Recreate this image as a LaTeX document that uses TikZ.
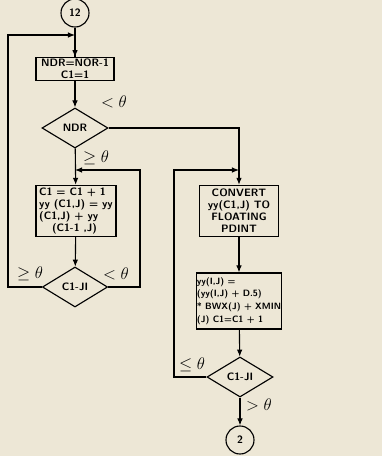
\documentclass[tikz,border=0pt]{standalone}
\usetikzlibrary{shapes.geometric,arrows.meta,backgrounds}
\definecolor{paper}{RGB}{237,231,214}
\tikzset{
  box/.style={draw,thick,rectangle,inner sep=1pt,align=center,font=\sffamily\bfseries\fontsize{7.6}{8.6}\selectfont},
  test/.style={draw,thick,diamond,aspect=1.65,inner sep=0pt,font=\sffamily\bfseries\fontsize{7.6}{8.6}\selectfont},
  conn/.style={draw,thick,circle,minimum size=0.7cm,inner sep=0pt,font=\sffamily\bfseries\fontsize{7.6}{8.6}\selectfont},
  flow/.style={thick,-{Latex[length=5pt,width=4pt]}},
  lbl/.style={font=\large}
}
\begin{document}
\begin{tikzpicture}[x=0.025cm,y=-0.025cm]
\fill[paper] (0,0) rectangle (382,456);
\useasboundingbox (0,0) rectangle (382,456);
% left column
\node[conn] (c12) at (75,13) {12};
\node[box,minimum width=1.95cm,minimum height=0.55cm] (b1) at (75,69) {NDR=NOR-1\\C1=1};
\node[test,minimum width=1.65cm,minimum height=1cm] (d1) at (75,128) {NDR};
\node[box,minimum width=2cm,minimum height=1.28cm,align=left] (b2) at (76,211) {C1 = C1 + 1\\yy (C1,J) = yy\\(C1,J) + yy\\\hspace{1.2em}(C1-1 ,J)};
\node[test,minimum width=1.63cm,minimum height=1cm] (d2) at (75,287) {C1-JI};
% right column
\node[box,minimum width=1.98cm,minimum height=1.28cm] (b3) at (239,211) {CONVERT\\yy(C1,J) TO\\FLOATING\\PDINT};
\node[box,minimum width=2cm,minimum height=1.4cm,align=left,inner sep=0.5pt,font=\sffamily\bfseries\fontsize{6.5}{9}\selectfont] (b4) at (239,301) {yy(I,J) =\\(yy(I,J) + D.5)\\* BWX(J) + XMIN\\(J) C1=C1 + 1};
\node[test,minimum width=1.65cm,minimum height=1cm] (d3) at (240,377) {C1-JI};
\node[conn] (c2) at (240,440) {2};
\coordinate (lt) at (8,35);
\coordinate (rt) at (140,170);
\coordinate (mt) at (174,170);
% connectors
\draw[thick] (c12) -- (b1);
\draw[flow] (c12 |- lt) -- (b1);
\draw[flow] (b1) -- (d1);
\draw[flow] (d1) -- (b2);
\draw[flow] (b2) -- (d2);
\draw[flow] (d2.west) -- (d2.west -| lt) |- (c12 |- lt);
\draw[flow] (d2.east) -- (d2.east -| rt) |- (d1 |- rt);
\draw[flow] (d1.east) -| (b3.north);
\draw[flow] (b3) -- (b4);
\draw[flow] (b4) -- (d3);
\draw[flow] (d3.west) -- (d3.west -| mt) |- (b3 |- mt);
\draw[flow] (d3) -- (c2);
% branch labels
\node[lbl] (l1) at (114,102) {$<\theta$};
\node[lbl] (l2) at (96,158) {$\geq\theta$};
\node[lbl] (l3) at (30,274) {$\geq\theta$};
\node[lbl] (l4) at (116,274) {$<\theta$};
\node[lbl] (l5) at (192,365) {$\leq\theta$};
\node[lbl] (l6) at (259,405) {$>\theta$};
\end{tikzpicture}
\end{document}
